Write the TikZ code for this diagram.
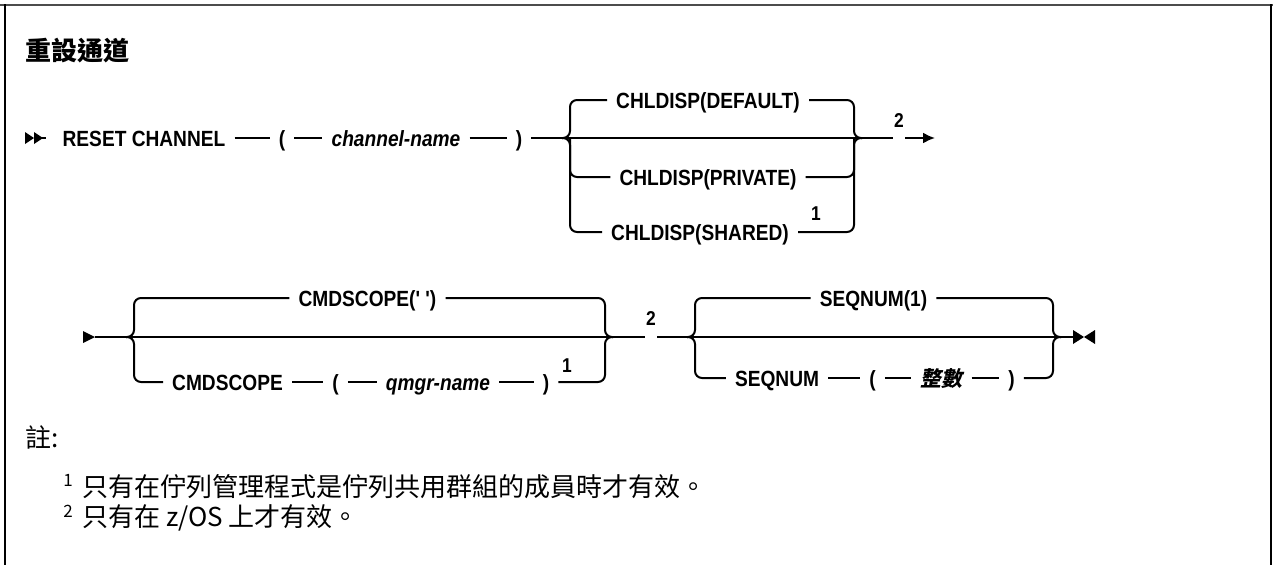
\documentclass[tikz,border=0pt]{standalone}
\usepackage{fontspec}
\newfontfamily\plex[FakeStretch=0.87]{Liberation Sans}
\newfontfamily\cjk{Noto Sans CJK TC}
\newfontfamily\cjksl[FakeSlant=0.2]{Noto Sans CJK TC}
\usetikzlibrary{arrows.meta}
\tikzset{
  rail/.style={line width=2pt},
  brace/.style={rail, rounded corners=7pt},
  kw/.style={font=\plex\bfseries\fontsize{22}{26}\selectfont, inner xsep=9pt, inner ysep=0pt, text height=16pt, text depth=0pt},
  var/.style={kw, font=\plex\bfseries\itshape\fontsize{22}{26}\selectfont},
  cjkvar/.style={kw, font=\cjksl\bfseries\fontsize{21}{25}\selectfont},
  fn/.style={font=\plex\bfseries\fontsize{20}{22}\selectfont, inner sep=0pt},
  note/.style={font=\cjk\fontsize{26}{30}\selectfont, inner sep=0pt, anchor=west},
  noteno/.style={font=\cjk\fontsize{17}{19}\selectfont, inner sep=0pt},
}
\begin{document}
\begin{tikzpicture}[x=1pt, y=-1pt]
\useasboundingbox (0,0) rectangle (1273,565);
\draw[line width=2.5pt, black!70] (0,5) -- (1273,5);
\draw[line width=2.5pt] (5,4) -- (5,565);
\draw[line width=2.5pt] (1271,4) -- (1271,565);
\node[font=\cjk\bfseries\fontsize{26}{30}\selectfont, inner sep=0pt, anchor=west] (title) at (25,51) {重設通道};
% first row
\coordinate (st1) at (25,138);
\coordinate (in1) at (46,138);
\fill (st1) ++(0,-6) -- ++(9,6) -- ++(-9,6) -- cycle;
\fill (st1) ++(9,-6) -- ++(9,6) -- ++(-9,6) -- cycle;
\draw[rail] ([xshift=17pt]st1) -- (in1);
\node[kw] (reset) at (144,138) {RESET CHANNEL};
\node[kw] (lpa) at (282,138) {(};
\node[var] (chname) at (396,138) {channel-name};
\node[kw] (rpa) at (519,138) {)};
\draw[rail] (reset) -- (lpa);
\draw[rail] (lpa) -- (chname);
\draw[rail] (chname) -- (rpa);
\coordinate (b1l) at (570,138);
\coordinate (b1r) at (854,138);
\coordinate (g1) at (893,138);
\coordinate (h1) at (905,138);
\coordinate (e1) at (935,138);
\node[kw] (dflt) at (708,100) {CHLDISP(DEFAULT)};
\node[kw] (prvt) at (708,177) {CHLDISP(PRIVATE)};
\node[kw] (shrd) at (700,232) {CHLDISP(SHARED)};
\node[fn] (fn1a) at (816,214) {1};
\draw[rail] (rpa) -- (g1);
\draw[brace] ([xshift=-8pt]b1l) -- (b1l) -- (b1l |- dflt) -- (dflt.west);
\draw[brace] ([xshift=-8pt]b1l) -- (b1l) -- (b1l |- shrd) -- (shrd.west);
\draw[brace] (b1l) -- (b1l |- prvt) -- (prvt.west);
\draw[brace] (dflt.east) -- (b1r |- dflt) -- (b1r) -- ([xshift=8pt]b1r);
\draw[brace] (shrd.east) -- (b1r |- shrd) -- (b1r) -- ([xshift=8pt]b1r);
\draw[brace] (prvt.east) -- (b1r |- prvt) -- (b1r);
\node[fn] (fn2a) at (899,121) {2};
\draw[rail, -{Latex[length=12pt, width=11pt]}] (h1) -- (e1);
% second row
\coordinate (st2) at (83,337);
\coordinate (in2) at (95,337);
\fill (st2) ++(0,-6) -- ++(12,6) -- ++(-12,6) -- cycle;
\coordinate (b2l) at (134,337);
\coordinate (b2r) at (605,337);
\coordinate (g2) at (645,337);
\coordinate (h2) at (657,337);
\node[kw] (scp0) at (367.5,298) {CMDSCOPE(' ')};
\node[kw] (scp) at (227.5,382) {CMDSCOPE};
\node[kw] (lpb) at (335.5,382) {(};
\node[var] (qmgr) at (438,382) {qmgr-name};
\node[kw] (rpb) at (546,382) {)};
\node[fn] (fn1b) at (567,366) {1};
\draw[rail] (scp) -- (lpb);
\draw[rail] (lpb) -- (qmgr);
\draw[rail] (qmgr) -- (rpb);
\draw[rail] (in2) -- (g2);
\draw[brace] ([xshift=-8pt]b2l) -- (b2l) -- (b2l |- scp0) -- (scp0.west);
\draw[brace] ([xshift=-8pt]b2l) -- (b2l) -- (b2l |- scp) -- (scp.west);
\draw[brace] (scp0.east) -- (b2r |- scp0) -- (b2r) -- ([xshift=8pt]b2r);
\draw[brace] (rpb.east) -- (b2r |- rpb) -- (b2r) -- ([xshift=8pt]b2r);
\node[fn] (fn2b) at (651,319) {2};
\coordinate (b3l) at (695,337);
\coordinate (b3r) at (1053,337);
\coordinate (e2) at (1073,337);
\coordinate (fin) at (1084,337);
\node[kw] (seq0) at (873.5,298) {SEQNUM(1)};
\node[kw] (seq) at (777,378) {SEQNUM};
\node[kw] (lpc) at (872.5,378) {(};
\node[cjkvar] (intg) at (941.5,378) {整數};
\node[kw] (rpc) at (1011.5,378) {)};
\draw[rail] (seq) -- (lpc);
\draw[rail] (lpc) -- (intg);
\draw[rail] (intg) -- (rpc);
\draw[rail] (h2) -- (e2);
\draw[brace] ([xshift=-8pt]b3l) -- (b3l) -- (b3l |- seq0) -- (seq0.west);
\draw[brace] ([xshift=-8pt]b3l) -- (b3l) -- (b3l |- seq) -- (seq.west);
\draw[brace] (seq0.east) -- (b3r |- seq0) -- (b3r) -- ([xshift=8pt]b3r);
\draw[brace] (rpc.east) -- (b3r |- rpc) -- (b3r) -- ([xshift=8pt]b3r);
\fill (fin) -- ++(-11,-7) -- ++(0,14) -- cycle;
\fill (fin) -- ++(11,-7) -- ++(0,14) -- cycle;
% notes
\node[note] (notes) at (25,437) {註:};
\node[noteno] (n1no) at (68,480) {1};
\node[note] (n1) at (82,487) {只有在佇列管理程式是佇列共用群組的成員時才有效。};
\node[noteno] (n2no) at (68,511) {2};
\node[note] (n2) at (82,518) {只有在 z/OS 上才有效。};
\end{tikzpicture}
\end{document}
